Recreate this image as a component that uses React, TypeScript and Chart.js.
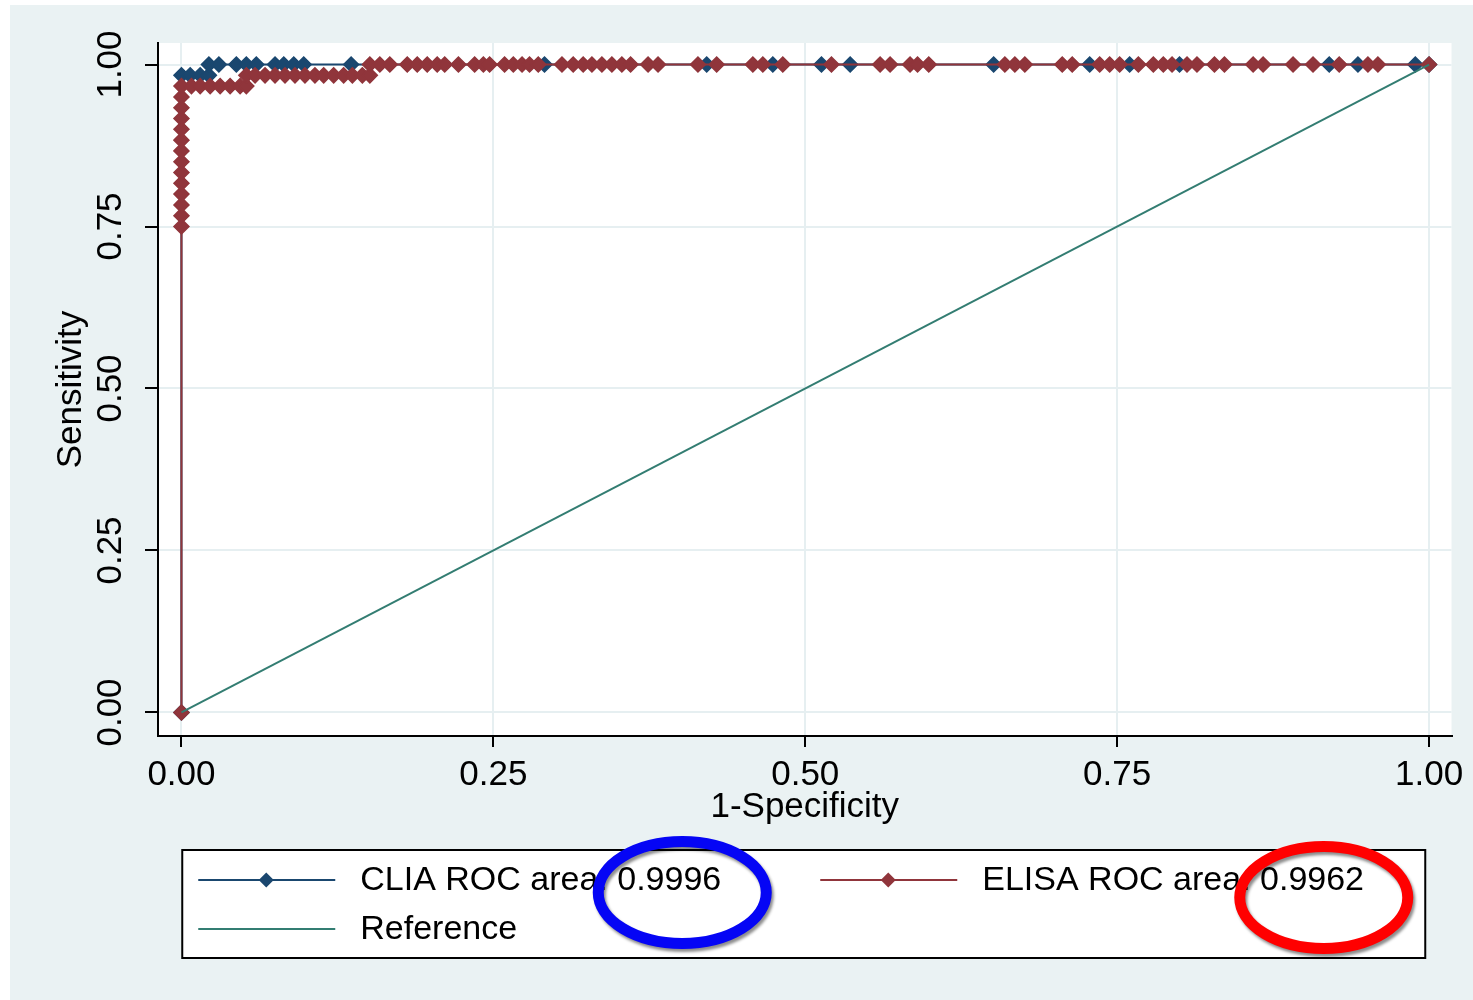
import React, { useEffect, useRef } from "react";
import { Chart, registerables } from "chart.js";

Chart.register(...registerables);

// ---------- data ----------
const tickValues = [0, 0.25, 0.5, 0.75, 1];
const tickLabels = ["0.00", "0.25", "0.50", "0.75", "1.00"];

const xAxisTitle = "1-Specificity";
const yAxisTitle = "Sensitivity";

const cliaLabel = "CLIA ROC area: 0.9996";
const elisaLabel = "ELISA ROC area: 0.9962";
const refLabel = "Reference";

// [1-specificity, sensitivity]
const cliaPoints: [number, number][] = [
  [0, 0], [0, 0.9833], [0.007, 0.9833], [0.015, 0.9833], [0.022, 0.9833],
  [0.022, 1], [0.03, 1], [0.044, 1], [0.052, 1], [0.06, 1], [0.075, 1],
  [0.082, 1], [0.09, 1], [0.098, 1], [0.136, 1], [0.291, 1], [0.421, 1],
  [0.474, 1], [0.513, 1], [0.536, 1], [0.651, 1], [0.728, 1], [0.76, 1],
  [0.8, 1], [0.92, 1], [0.943, 1], [0.989, 1], [1, 1],
];

const elisaPoints: [number, number][] = [
  [0, 0], [0, 0.75], [0, 0.7667], [0, 0.7833], [0, 0.8], [0, 0.8167],
  [0, 0.8333], [0, 0.85], [0, 0.8667], [0, 0.8833], [0, 0.9], [0, 0.9167],
  [0, 0.9333], [0, 0.95], [0, 0.9667],
  [0.008, 0.9667], [0.015, 0.9667], [0.023, 0.9667], [0.031, 0.9667],
  [0.039, 0.9667], [0.047, 0.9667], [0.052, 0.9667],
  [0.052, 0.9833], [0.059, 0.9833], [0.067, 0.9833], [0.075, 0.9833],
  [0.083, 0.9833], [0.091, 0.9833], [0.099, 0.9833], [0.107, 0.9833],
  [0.114, 0.9833], [0.122, 0.9833], [0.13, 0.9833], [0.137, 0.9833],
  [0.145, 0.9833], [0.151, 0.9833],
  [0.151, 1], [0.159, 1], [0.167, 1], [0.181, 1], [0.189, 1], [0.197, 1],
  [0.205, 1], [0.211, 1], [0.222, 1], [0.235, 1], [0.242, 1], [0.247, 1],
  [0.259, 1], [0.266, 1], [0.273, 1], [0.279, 1], [0.286, 1], [0.305, 1],
  [0.314, 1], [0.322, 1], [0.329, 1], [0.337, 1], [0.345, 1], [0.353, 1],
  [0.36, 1], [0.374, 1], [0.382, 1], [0.414, 1], [0.429, 1], [0.458, 1],
  [0.466, 1], [0.482, 1], [0.521, 1], [0.56, 1], [0.568, 1], [0.584, 1],
  [0.59, 1], [0.599, 1], [0.66, 1], [0.668, 1], [0.676, 1], [0.706, 1],
  [0.714, 1], [0.736, 1], [0.744, 1], [0.752, 1], [0.767, 1], [0.779, 1],
  [0.787, 1], [0.794, 1], [0.806, 1], [0.814, 1], [0.828, 1], [0.836, 1],
  [0.859, 1], [0.867, 1], [0.891, 1], [0.907, 1], [0.928, 1], [0.951, 1],
  [0.959, 1], [1, 1],
];

const refPoints: [number, number][] = [
  [0, 0],
  [1, 1],
];

// ---------- styles ----------
const FONT = "'Liberation Sans', Arial, Helvetica, sans-serif";
const NAVY = "#1a476f";
const MAROON = "#90353b";
const REF = "#337d72";
const BG = "#eaf2f3";
const GRID = "#e6eff1";

const toXY = (pts: [number, number][]) => pts.map(([x, y]) => ({ x, y }));

const stataPlugin = {
  id: "stataDecor",
  beforeDraw(chart: any) {
    const { ctx, chartArea: a, width, height } = chart;
    ctx.save();
    ctx.fillStyle = "#ffffff";
    ctx.fillRect(0, 0, width, height);
    ctx.fillStyle = BG;
    ctx.fillRect(10, 5, width - 10, height - 5);
    ctx.fillStyle = "#ffffff";
    ctx.fillRect(a.left, a.top, a.right - a.left, a.bottom - a.top);
    ctx.restore();
  },
  afterDraw(chart: any) {
    const { ctx, chartArea: a } = chart;
    const ys = chart.scales.y;
    ctx.save();
    ctx.fillStyle = "#000";
    ctx.textAlign = "center";
    ctx.textBaseline = "middle";
    ctx.font = `35px ${FONT}`;
    // rotated y tick labels
    ys.ticks.forEach((t: any) => {
      const idx = tickValues.indexOf(t.value);
      if (idx < 0) return;
      const py = ys.getPixelForValue(t.value);
      ctx.save();
      ctx.translate(a.left - 46.5, py);
      ctx.rotate(-Math.PI / 2);
      ctx.fillText(tickLabels[idx], 0, 0);
      ctx.restore();
    });
    // y title
    ctx.save();
    ctx.translate(a.left - 86.5, (a.top + a.bottom) / 2);
    ctx.rotate(-Math.PI / 2);
    ctx.fillText(yAxisTitle, 0, 0);
    ctx.restore();

    // legend
    const lw = 1243;
    const lh = 108;
    const left = (a.left + a.right) / 2 - 1 - lw / 2;
    const top = a.bottom + 114;
    ctx.fillStyle = "#ffffff";
    ctx.fillRect(left, top, lw, lh);
    ctx.strokeStyle = "#000";
    ctx.lineWidth = 2;
    ctx.strokeRect(left, top, lw, lh);

    const dsByLabel = (lab: string) =>
      chart.data.datasets.find((d: any) => d.label === lab);
    const entries = [
      { lab: cliaLabel, col: 0, row: 0 },
      { lab: elisaLabel, col: 1, row: 0 },
      { lab: refLabel, col: 0, row: 1 },
    ];
    const colStart = [16, 638];
    const rowY = [30, 79];
    ctx.font = `34px ${FONT}`;
    ctx.textAlign = "left";
    entries.forEach((e) => {
      const ds = dsByLabel(e.lab);
      if (!ds) return;
      const x0 = left + colStart[e.col];
      const y0 = top + rowY[e.row];
      ctx.strokeStyle = ds.borderColor;
      ctx.lineWidth = 2;
      ctx.beginPath();
      ctx.moveTo(x0, y0);
      ctx.lineTo(x0 + 137, y0);
      ctx.stroke();
      if (ds.pointRadius > 0) {
        const r = 7.5;
        const cx = x0 + 68;
        ctx.fillStyle = ds.backgroundColor;
        ctx.beginPath();
        ctx.moveTo(cx, y0 - r);
        ctx.lineTo(cx + r, y0);
        ctx.lineTo(cx, y0 + r);
        ctx.lineTo(cx - r, y0);
        ctx.closePath();
        ctx.fill();
      }
      ctx.fillStyle = "#000";
      ctx.fillText(ds.label, x0 + 162, y0 + 1);
    });

    // highlight ellipses
    const rings = [
      { cx: left + 500, cy: top + 42.5, color: "#0505f5" },
      { cx: left + 1141.5, cy: top + 47.5, color: "#ff0000" },
    ];
    rings.forEach((r) => {
      ctx.save();
      ctx.shadowColor = "rgba(0,0,0,0.45)";
      ctx.shadowBlur = 3;
      ctx.shadowOffsetX = 2;
      ctx.shadowOffsetY = 3;
      ctx.strokeStyle = r.color;
      ctx.lineWidth = 11;
      ctx.beginPath();
      ctx.ellipse(r.cx, r.cy, 84, 51, 0, 0, Math.PI * 2);
      ctx.stroke();
      ctx.restore();
    });
    ctx.restore();
  },
};

const setTicks = (scale: any) => {
  scale.ticks = tickValues.map((v) => ({ value: v }));
};

export default function App() {
  const ref = useRef<HTMLCanvasElement | null>(null);

  useEffect(() => {
    if (!ref.current) return;
    const marker = {
      showLine: true,
      borderWidth: 2,
      pointStyle: "rectRot",
      pointRadius: 7.5,
      pointHoverRadius: 7.5,
      pointBorderWidth: 1.5,
    };
    const chart = new Chart(ref.current, {
      type: "scatter",
      data: {
        datasets: [
          {
            label: refLabel,
            data: toXY(refPoints),
            showLine: true,
            borderColor: REF,
            backgroundColor: REF,
            borderWidth: 2,
            pointRadius: 0,
            pointHoverRadius: 0,
          },
          {
            label: elisaLabel,
            data: toXY(elisaPoints),
            borderColor: MAROON,
            backgroundColor: MAROON,
            ...marker,
          } as any,
          {
            label: cliaLabel,
            data: toXY(cliaPoints),
            borderColor: NAVY,
            backgroundColor: NAVY,
            ...marker,
          } as any,
        ],
      },
      options: {
        responsive: false,
        animation: false,
        devicePixelRatio: 1,
        layout: { padding: { left: 10, right: 21.5, top: 43, bottom: 164 } },
        plugins: {
          legend: { display: false },
          tooltip: { enabled: false },
        },
        scales: {
          x: {
            type: "linear",
            min: -0.0188,
            max: 1.018,
            afterBuildTicks: setTicks,
            afterFit: (s: any) => {
              s.height = 100;
            },
            ticks: {
              color: "#000",
              font: { family: FONT, size: 35 },
              padding: 7,
              maxRotation: 0,
              minRotation: 0,
              autoSkip: false,
              callback: (v: any) => {
                const i = tickValues.indexOf(Number(v));
                return i >= 0 ? tickLabels[i] : "";
              },
            },
            grid: {
              color: GRID,
              lineWidth: 2,
              tickColor: "#000",
              tickWidth: 2,
              tickLength: 11,
            },
            border: { display: true, color: "#000", width: 2 },
            title: {
              display: true,
              text: xAxisTitle,
              color: "#000",
              font: { family: FONT, size: 35 },
              padding: { top: 0, bottom: 7.5 },
            },
          },
          y: {
            type: "linear",
            min: -0.0363,
            max: 1.0332,
            afterBuildTicks: setTicks,
            afterFit: (s: any) => {
              s.width = 148;
            },
            ticks: { display: false },
            grid: {
              color: GRID,
              lineWidth: 2,
              tickColor: "#000",
              tickWidth: 2,
              tickLength: 13,
            },
            border: { display: true, color: "#000", width: 2 },
            title: { display: false },
          },
        },
      } as any,
      plugins: [stataPlugin],
    });
    return () => chart.destroy();
  }, []);

  return (
    <div style={{ position: "absolute", left: 0, top: 0, width: 1473, height: 1000 }}>
      <canvas ref={ref} width={1473} height={1000} style={{ width: 1473, height: 1000, display: "block" }} />
    </div>
  );
}
